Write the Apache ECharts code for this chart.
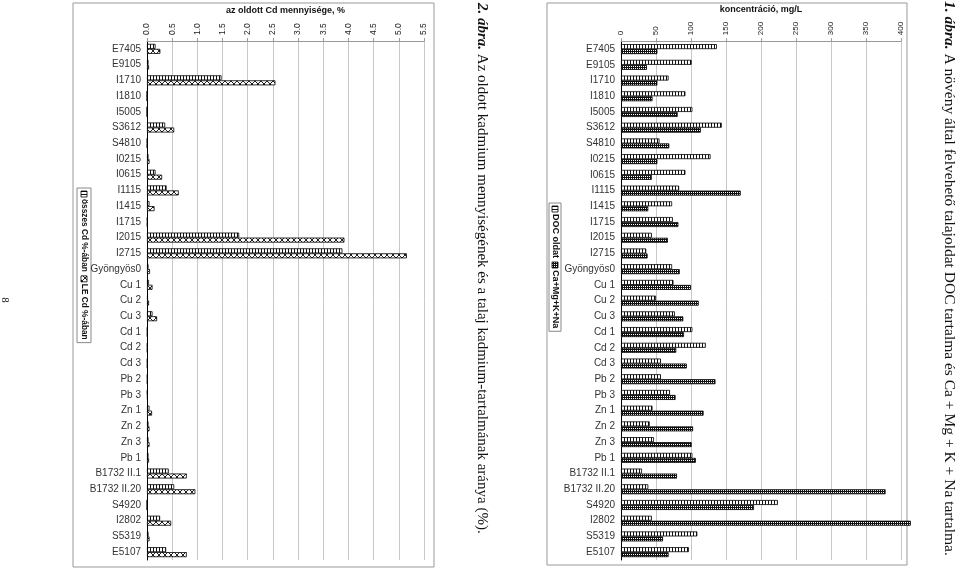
<!DOCTYPE html>
<html>
<head>
<meta charset="utf-8">
<script src="https://cdn.jsdelivr.net/npm/echarts@6/dist/echarts.min.js"></script>
<style>html,body{margin:0;padding:0;background:#fff;}#c{width:960px;height:569px;}</style>
</head>
<body>
<div id="c"></div>
<script>
// ---- data ----
var categories = ['E7405','E9105','I1710','I1810','I5005','S3612','S4810','I0215','I0615','I1115','I1415','I1715','I2015','I2715','Gyöngyös0','Cu 1','Cu 2','Cu 3','Cd 1','Cd 2','Cd 3','Pb 2','Pb 3','Zn 1','Zn 2','Zn 3','Pb 1','B1732 II.1','B1732 II.20','S4920','I2802','S5319','E5107'];
// chart 1 (mg/L)
var docOldat = [137,101,68,92,102,144,55,128,92,83,73,74,44,36,73,75,50,77,102,121,57,57,70,45,41,47,102,30,39,224,44,109,97];
var caMgKNa  = [52,37,52,45,81,114,69,52,44,171,39,82,67,38,84,100,111,89,90,79,94,135,78,118,103,101,107,80,378,190,414,60,68];
// chart 2 (%)
var osszesCd = [0.17,0.03,1.48,0,0,0.36,0.005,0.03,0.17,0.39,0.05,0.01,1.83,3.88,0.03,0.04,0.02,0.11,0.01,0.01,0.01,0.01,0.01,0.05,0.03,0.03,0.03,0.43,0.54,0,0.26,0.03,0.38];
var leCd     = [0.265,0.04,2.55,0,0,0.54,0.005,0.05,0.3,0.63,0.15,0.01,3.92,5.16,0.06,0.11,0.04,0.2,0.01,0.01,0.01,0.01,0.015,0.1,0.05,0.05,0.04,0.79,0.96,0,0.48,0.05,0.79];
var ticks1 = [0,50,100,150,200,250,300,350,400];
var ticks2 = ['0.0','0.5','1.0','1.5','2.0','2.5','3.0','3.5','4.0','4.5','5.0','5.5'];

// ---- patterns ----
function mk(w,h,draw){var c=document.createElement('canvas');c.width=w;c.height=h;var g=c.getContext('2d');g.fillStyle='#fff';g.fillRect(0,0,w,h);draw(g);return c;}
var pStripe = mk(3,4,function(g){g.fillStyle='#111';g.fillRect(0,0,1,4);});
var pDark = mk(2,2,function(g){g.fillStyle='#111';g.fillRect(0,0,2,2);g.fillStyle='#fff';g.fillRect(1,0,1,1);});
var pCross = mk(6,6,function(g){g.strokeStyle='#222';g.lineWidth=1;g.beginPath();g.moveTo(0,0);g.lineTo(6,6);g.moveTo(6,0);g.lineTo(0,6);g.stroke();});
function pat(c){return {image:c,repeat:'repeat'};}

var font = 'Liberation Sans, Arial, sans-serif';
var serif = 'Liberation Serif, Times New Roman, serif';
var mctx = document.createElement('canvas').getContext('2d');
function tw(t,f){mctx.font=f;return mctx.measureText(t).width;}

function yAx(idx){
  return {type:'category',gridIndex:idx,data:categories,inverse:true,
    axisLine:{show:true,lineStyle:{color:'#000',width:1}},axisTick:{show:false},
    axisLabel:{fontFamily:font,fontSize:10,color:'#333',margin:6,interval:0},splitLine:{show:false}};
}
function xAx(idx,max,interval,name,fmt,fs){
  return {type:'value',gridIndex:idx,position:'top',min:0,max:max,interval:interval,
    name:name,nameLocation:'middle',nameGap:23,nameTextStyle:{fontFamily:font,fontSize:9,fontWeight:'bold',color:'#111'},
    axisLine:{show:true,lineStyle:{color:'#999'}},axisTick:{show:true,length:3,lineStyle:{color:'#999'}},
    axisLabel:{rotate:-90,fontFamily:font,fontSize:fs,color:'#222',margin:6,formatter:fmt},
    splitLine:{show:true,lineStyle:{color:'#c8c8c8',width:1}}};
}
function bar(name,x,y,data,c){
  return {type:'bar',name:name,xAxisIndex:x,yAxisIndex:y,data:data,barWidth:5,barGap:'0%',clip:false,
    itemStyle:{color:pat(c),borderColor:'#000',borderWidth:0.8},emphasis:{disabled:true},silent:true};
}
function legend(xr,yt,th,fs,items){
  var f='bold '+fs+'px '+font;
  var ch=[];
  var pos=3;
  items.forEach(function(it){
    ch.push({type:'rect',shape:{x:pos,y:th/2-3,width:6,height:6},style:{fill:pat(it.p),stroke:'#000',lineWidth:0.8}});
    ch.push({type:'text',x:pos+8,y:th/2,style:{text:it.t,font:f,fill:'#111',textVerticalAlign:'middle',textAlign:'left'}});
    pos += 8 + tw(it.t,f) + 4;
  });
  ch.unshift({type:'rect',shape:{x:0,y:0,width:pos-1,height:th},style:{fill:'#fff',stroke:'#888',lineWidth:1}});
  return {type:'group',x:xr,y:yt,rotation:-Math.PI/2,children:ch};
}
function caption(x,y,num,rest,fs){
  return {type:'text',x:x,y:y,rotation:-Math.PI/2,style:{
    text:'{b|'+num+'} '+rest,fill:'#111',textVerticalAlign:'middle',textAlign:'left',
    rich:{b:{fontFamily:serif,fontSize:fs,fontWeight:'bold',fontStyle:'italic',fill:'#111'}},
    font:fs+'px '+serif}};
}

var chart = echarts.init(document.getElementById('c'),null,{renderer:'canvas'});
chart.setOption({
  animation:false,
  backgroundColor:'#fff',
  grid:[{left:147,right:536,top:41,bottom:9,containLabel:false},{left:621,right:59,top:41,bottom:9,containLabel:false}],
  xAxis:[xAx(0,5.5,0.5,'az oldott Cd mennyisége, %',function(v){return ticks2[Math.round(v/0.5)];},8.5),
         xAx(1,400,50,'koncentráció, mg/L',function(v){return ticks1[Math.round(v/50)];},8)],
  yAxis:[yAx(0),yAx(1)],
  series:[bar('összes Cd %-ában',0,0,osszesCd,pStripe),bar('LE Cd %-ában',0,0,leCd,pCross),
          bar('DOC oldat',1,1,docOldat,pStripe),bar('Ca+Mg+K+Na',1,1,caMgKNa,pDark)],
  graphic:[
    {type:'rect',shape:{x:73,y:3,width:361,height:564},style:{fill:'none',stroke:'#999',lineWidth:1},z:-1},
    {type:'rect',shape:{x:547,y:3,width:360,height:562},style:{fill:'none',stroke:'#999',lineWidth:1},z:-1},
    legend(91,188,14,8.3,[{p:pStripe,t:'összes Cd %-ában'},{p:pCross,t:'LE Cd %-ában'}]),
    legend(561,203,12,9,[{p:pStripe,t:'DOC oldat'},{p:pDark,t:'Ca+Mg+K+Na'}]),
    caption(482,3,'2. ábra.','Az oldott kadmium mennyiségének és a talaj kadmium-tartalmának aránya (%).',15),
    caption(949,1,'1. ábra.','A növény által felvehető talajoldat DOC tartalma és Ca + Mg + K + Na tartalma.',15.5),
    {type:'text',x:5,y:300,rotation:-Math.PI/2,style:{text:'8',font:'11px '+serif,fill:'#111',textAlign:'center',textVerticalAlign:'middle'}}
  ]
});
</script>
</body>
</html>
